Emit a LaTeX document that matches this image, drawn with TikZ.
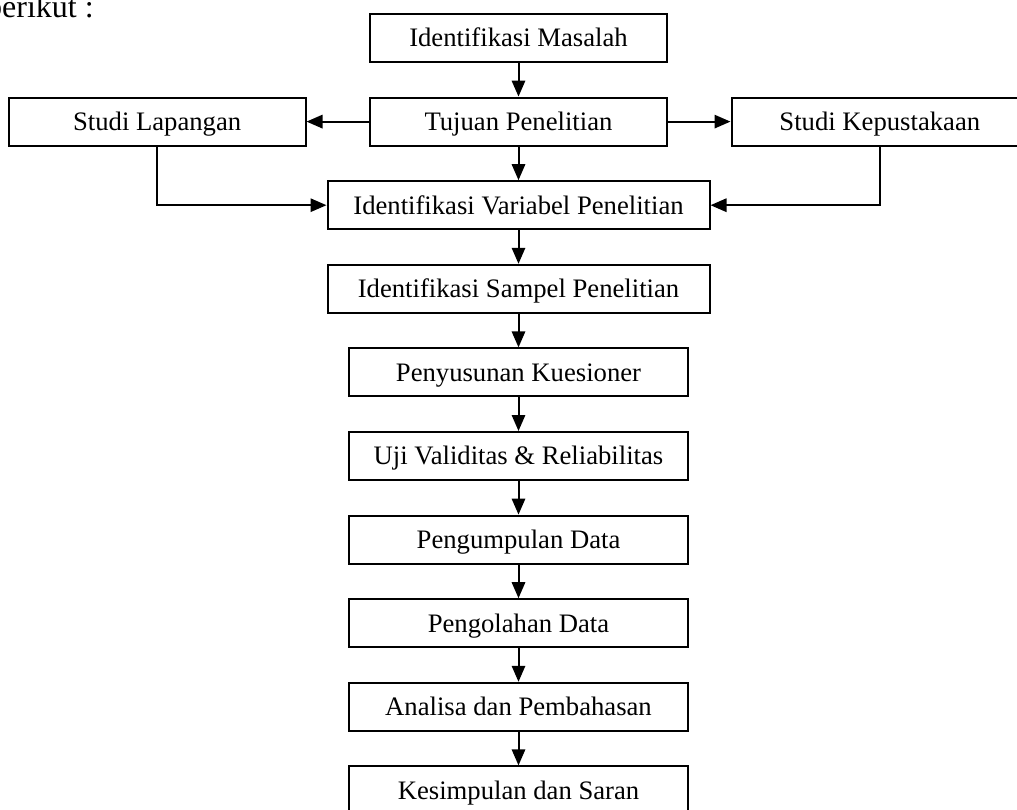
\documentclass[tikz,border=0pt]{standalone}
\usepackage{fontspec}
\setmainfont{Liberation Serif}
\usetikzlibrary{positioning,arrows.meta}

\begin{document}
\begin{tikzpicture}[x=0.75pt,y=-0.75pt,node distance=25.2pt]
	\tikzstyle{every node}=[font=\fontsize{20}{24}\selectfont]
	\tikzstyle{box}=[draw,line width=1.5pt,minimum height=36pt,inner sep=0pt,text height=13.2pt,text depth=0pt]
	\tikzstyle{narrow}=[box,minimum width=222.5pt]
	\tikzstyle{wide}=[box,minimum width=286.5pt]
	\tikzstyle{middle}=[box,minimum width=254.25pt]
	\tikzstyle{arr}=[-{Triangle[length=12pt,width=10pt]},line width=1.5pt]
	\useasboundingbox (0,0) rectangle (1017,810);
	% teks pengantar (terpotong di tepi kiri)
	\node[anchor=base east,inner sep=0pt,font=\fontsize{24}{28}\selectfont] (intro) at (94,17) {berikut :};
	% alur utama
	\node[narrow] (masalah) at (518.5,38) {Identifikasi Masalah};
	\node[narrow,below=of masalah] (tujuan) {Tujuan Penelitian};
	\node[narrow,left=47pt of tujuan] (lapangan) {Studi Lapangan};
	\node[narrow,right=47pt of tujuan] (pustaka) {Studi Kepustakaan};
	\node[wide,below=of tujuan] (variabel) {Identifikasi Variabel Penelitian};
	\node[wide,below=of variabel] (sampel) {Identifikasi Sampel Penelitian};
	\node[middle,below=of sampel] (kuesioner) {Penyusunan Kuesioner};
	\node[middle,below=of kuesioner] (uji) {Uji Validitas \& Reliabilitas};
	\node[middle,below=of uji] (kumpul) {Pengumpulan Data};
	\node[middle,below=of kumpul] (olah) {Pengolahan Data};
	\node[middle,below=of olah] (analisa) {Analisa dan Pembahasan};
	\node[middle,below=of analisa] (simpul) {Kesimpulan dan Saran};
	% panah
	\draw[arr] (masalah) -- (tujuan);
	\draw[arr] (tujuan) -- (lapangan);
	\draw[arr] (tujuan) -- (pustaka);
	\draw[arr] (tujuan) -- (variabel);
	\draw[arr] (lapangan.south) |- (variabel.west);
	\draw[arr] (pustaka.south) |- (variabel.east);
	\draw[arr] (variabel) -- (sampel);
	\draw[arr] (sampel) -- (kuesioner);
	\draw[arr] (kuesioner) -- (uji);
	\draw[arr] (uji) -- (kumpul);
	\draw[arr] (kumpul) -- (olah);
	\draw[arr] (olah) -- (analisa);
	\draw[arr] (analisa) -- (simpul);
\end{tikzpicture}
\end{document}
